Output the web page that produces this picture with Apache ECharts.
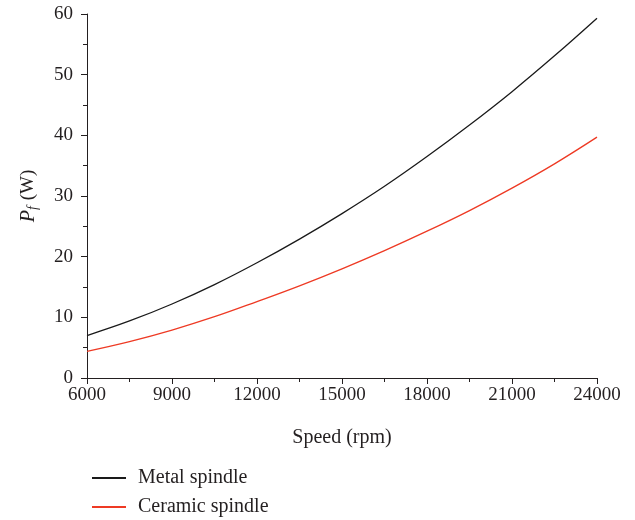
<!DOCTYPE html>
<html><head><meta charset="utf-8">
<script src="https://cdn.jsdelivr.net/npm/echarts@6/dist/echarts.min.js"></script>
<style>html,body{margin:0;padding:0;background:#fff}#c{width:635px;height:520px}</style>
</head><body><div id="c"></div>
<script>
const speeds = [6000,7500,9000,10500,12000,13500,15000,16500,18000,19500,21000,22500,24000];
const metal = [7.0,9.4,12.2,15.4,19.0,22.9,27.1,31.6,36.5,41.7,47.2,53.1,59.3];
const ceramic = [4.4,6.0,7.9,10.1,12.6,15.2,18.0,21.0,24.2,27.6,31.3,35.3,39.7];
const seriesNames = ['Metal spindle','Ceramic spindle'];
const font = 'Liberation Serif';
const ink = '#231f20';
const legendBase = {
  orient:'vertical', left:87, itemWidth:34, itemHeight:2, icon:'rect',
  textStyle:{fontFamily:font,fontSize:20,color:ink,padding:[0,0,0,7]}
};
const chart = echarts.init(document.getElementById('c'), null, {renderer:'canvas'});
chart.setOption({
  animation:false,
  backgroundColor:'#fff',
  grid:{left:87,right:38,top:14,bottom:142},
  legend:[
    Object.assign({}, legendBase, {top:463, data:[seriesNames[0]]}),
    Object.assign({}, legendBase, {top:492, data:[seriesNames[1]]})
  ],
  xAxis:{
    type:'value', min:6000, max:24000, interval:3000,
    name:'Speed (rpm)', nameLocation:'middle', nameGap:50,
    nameTextStyle:{fontFamily:font,fontSize:20,color:ink},
    axisLine:{lineStyle:{color:ink,width:1}},
    axisTick:{length:6,lineStyle:{color:ink}},
    minorTick:{show:true,splitNumber:2,length:4,lineStyle:{color:ink}},
    axisLabel:{fontFamily:font,fontSize:19,color:ink,margin:8,formatter:v=>String(v)},
    splitLine:{show:false}
  },
  yAxis:{
    type:'value', min:0, max:60, interval:10,
    name:'{i|P}{s|f}{n| (W)}', nameLocation:'middle', nameGap:47, nameRotate:90,
    nameTextStyle:{
      fontFamily:font,fontSize:19,color:ink,
      rich:{
        i:{fontFamily:font,fontSize:20,fontStyle:'italic',color:ink},
        s:{fontFamily:font,fontSize:14,fontStyle:'italic',color:ink,padding:[9,1,0,0]},
        n:{fontFamily:font,fontSize:19,color:ink}
      }
    },
    axisLine:{show:true,lineStyle:{color:ink,width:1}},
    axisTick:{show:true,length:6,lineStyle:{color:ink}},
    minorTick:{show:true,splitNumber:2,length:4,lineStyle:{color:ink}},
    axisLabel:{fontFamily:font,fontSize:19,color:ink,margin:14},
    splitLine:{show:false}
  },
  series:[
    {name:seriesNames[0],type:'line',smooth:0.4,symbol:'none',
     data:speeds.map((s,i)=>[s,metal[i]]),
     lineStyle:{color:'#1a1a1a',width:1.3},itemStyle:{color:'#1a1a1a'}},
    {name:seriesNames[1],type:'line',smooth:0.4,symbol:'none',
     data:speeds.map((s,i)=>[s,ceramic[i]]),
     lineStyle:{color:'#ee3a24',width:1.3},itemStyle:{color:'#ee3a24'}}
  ]
});
</script></body></html>
